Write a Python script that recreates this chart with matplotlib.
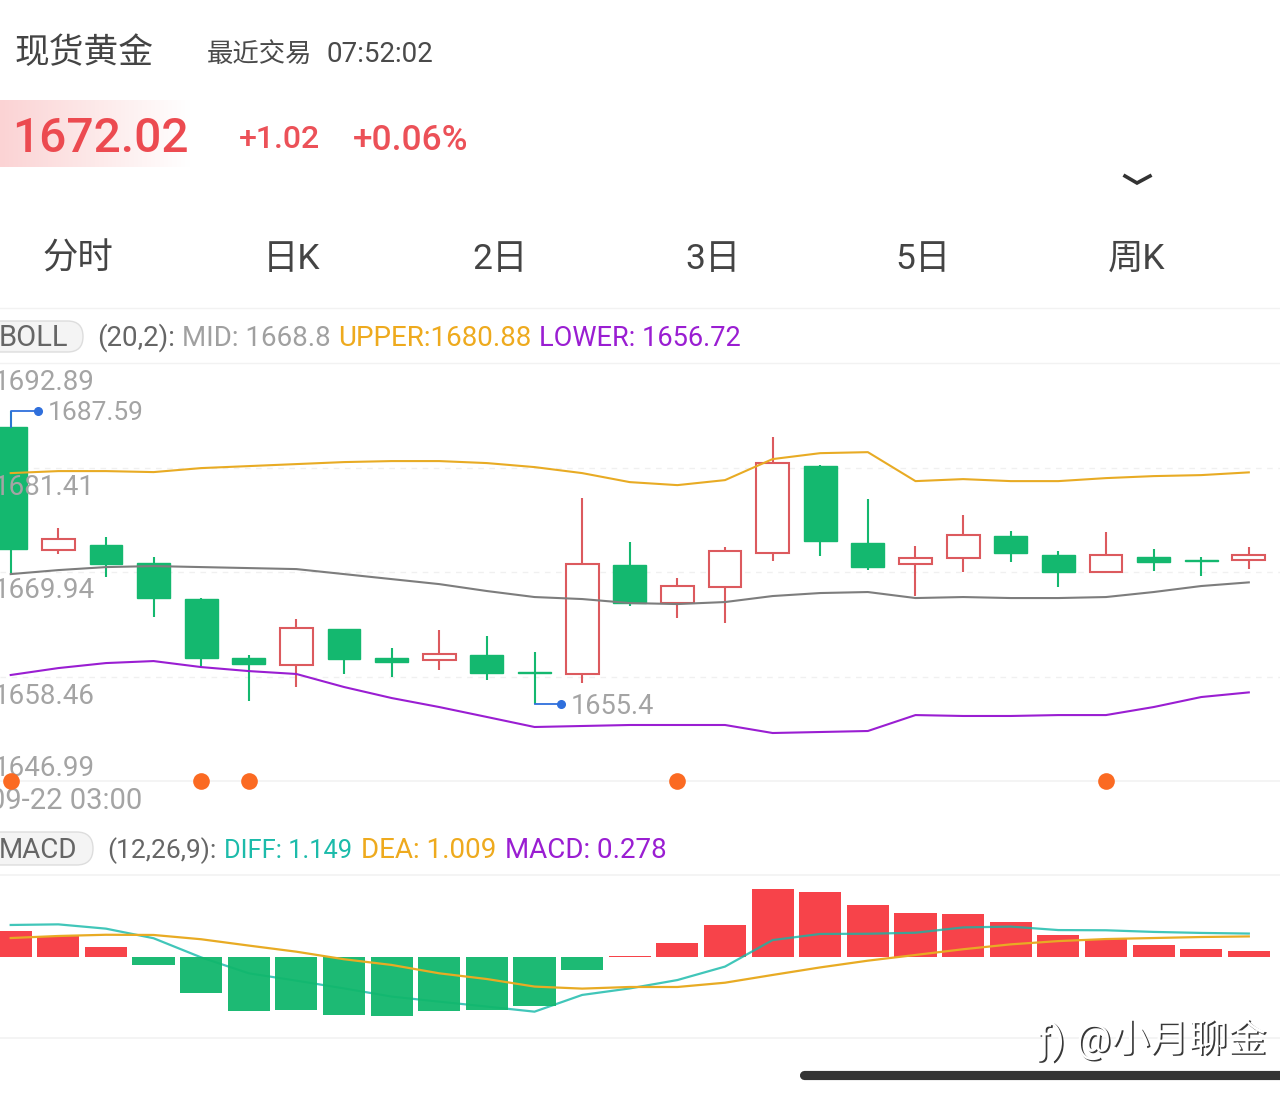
import numpy as np
import matplotlib
matplotlib.use("Agg")
import matplotlib.pyplot as plt
import matplotlib.patheffects as pe
from matplotlib.colors import LinearSegmentedColormap
from matplotlib.patches import FancyBboxPatch

FONT = ['Roboto', 'Noto Sans CJK SC', 'DejaVu Sans']
plt.rcParams['font.family'] = FONT

# ---- data ----
opens = [1685.85, 1672.35, 1672.90, 1670.92, 1666.97, 1660.49, 1659.72, 1663.68, 1660.49,
         1660.27, 1660.82, 1658.95, 1658.74, 1670.70, 1666.53, 1668.29, 1672.02, 1681.57,
         1673.12, 1670.81, 1671.47, 1673.88, 1671.80, 1669.93, 1671.58, 1671.25, 1671.25]
closes = [1672.46, 1673.55, 1670.81, 1667.08, 1660.49, 1659.83, 1663.78, 1660.38, 1660.05,
          1660.93, 1658.85, 1658.88, 1670.81, 1666.53, 1668.40, 1672.24, 1681.90, 1673.33,
          1670.48, 1671.47, 1673.99, 1672.02, 1669.93, 1671.80, 1671.03, 1671.19, 1671.80]
highs = [1687.59, 1674.76, 1673.77, 1671.58, 1667.08, 1660.82, 1664.77, 1663.68, 1661.59,
         1663.57, 1662.91, 1661.15, 1678.05, 1673.23, 1669.27, 1672.68, 1684.75, 1681.68,
         1677.95, 1672.79, 1676.19, 1674.43, 1672.24, 1674.32, 1672.46, 1671.58, 1672.68]
lows = [1669.82, 1671.91, 1669.38, 1664.99, 1659.61, 1655.77, 1657.31, 1658.74, 1658.41,
        1659.17, 1658.08, 1655.40, 1657.75, 1666.20, 1664.88, 1664.33, 1671.14, 1671.69,
        1670.15, 1667.30, 1669.93, 1671.03, 1668.29, 1669.93, 1670.04, 1669.49, 1670.26]
boll_upper = [1680.80, 1681.02, 1681.02, 1680.91, 1681.35, 1681.57, 1681.79, 1682.01, 1682.12,
              1682.12, 1681.90, 1681.46, 1680.80, 1679.81, 1679.48, 1680.03, 1682.34, 1682.99,
              1683.10, 1679.92, 1680.14, 1679.92, 1679.92, 1680.25, 1680.47, 1680.58, 1680.88]
boll_mid = [1669.71, 1670.15, 1670.48, 1670.59, 1670.48, 1670.37, 1670.26, 1669.71, 1669.16,
            1668.61, 1667.85, 1667.19, 1666.97, 1666.53, 1666.42, 1666.64, 1667.30, 1667.63,
            1667.74, 1667.08, 1667.19, 1667.08, 1667.08, 1667.19, 1667.74, 1668.40, 1668.80]
boll_lower = [1658.63, 1659.39, 1659.94, 1660.16, 1659.50, 1659.06, 1658.74, 1657.31, 1656.10,
              1655.11, 1654.02, 1652.92, 1653.03, 1653.14, 1653.14, 1653.14, 1652.26, 1652.37,
              1652.48, 1654.23, 1654.13, 1654.13, 1654.23, 1654.23, 1655.11, 1656.21, 1656.72]
macd_bar = [1.27, 1.05, 0.47, -0.39, -1.78, -2.66, -2.58, -2.83, -2.88, -2.63, -2.58, -2.40, -0.62,
            0.04, 0.69, 1.58, 3.33, 3.17, 2.55, 2.14, 2.11, 1.72, 1.09, 0.88, 0.59, 0.38, 0.278]
diff = [1.57, 1.60, 1.39, 0.92, -0.02, -0.80, -1.16, -1.54, -1.94, -2.19, -2.43, -2.68, -1.86,
        -1.54, -1.13, -0.47, 0.83, 1.13, 1.14, 1.19, 1.45, 1.49, 1.32, 1.31, 1.23, 1.18, 1.149]
dea = [0.93, 1.03, 1.09, 1.08, 0.87, 0.56, 0.26, -0.11, -0.39, -0.80, -1.08, -1.45, -1.55,
       -1.47, -1.47, -1.26, -0.88, -0.51, -0.18, 0.10, 0.38, 0.62, 0.78, 0.88, 0.93, 0.98, 1.009]
signal_idx = [0, 4, 5, 14, 23]
axis_prices = [1692.89, 1681.41, 1669.94, 1658.46, 1646.99]
axis_offsets = [-20, -20, -19, -20, 12]
tabs = ['分时', '日K', '2日', '3日', '5日', '周K']
tab_x = [78, 292, 500, 713, 923, 1137]

GREEN = '#14b86f'
RED_LINE = '#dc5a5e'
RED_BAR = '#f7434a'
GOLD = '#e8ab24'
PURPLE = '#9a1ed2'
TEAL = '#1cbbaa'
GRAY = '#a4a4a4'
W, H = 1280, 1095
x0_px, step_px = 10.7, 47.62

fig = plt.figure(figsize=(W / 100, H / 100), dpi=100, facecolor='white')


def px_axes(top, bottom):
    return fig.add_axes([0, 1 - bottom / H, 1, (bottom - top) / H])


xlim = (-x0_px / step_px, (W - x0_px) / step_px)
n = len(opens)
xs = np.arange(n)

# ---- overlay for the app chrome ----
ui = fig.add_axes([0, 0, 1, 1], zorder=0)
ui.set_xlim(0, W)
ui.set_ylim(H, 0)
ui.axis('off')
cmap = LinearSegmentedColormap.from_list('g', ['#fbd3d4', '#fde9e9', '#ffffff'])
ui.imshow(np.linspace(0, 1, 256).reshape(1, -1), extent=(0, 190, 167, 100), cmap=cmap,
          aspect='auto', zorder=0)
ui.set_xlim(0, W)
ui.set_ylim(H, 0)


def t(x, y, s, size, color, ha='left', weight='normal', **kw):
    return ui.text(x, y, s, fontsize=size, color=color, ha=ha, va='center', weight=weight,
                   family=FONT, **kw)


t(15, 54, '现货黄金', 25, '#444444')
t(207, 54, '最近交易', 19, '#4a4a4a')
t(327, 54, '07:52:02', 20, '#4a4a4a')
t(12, 139, '1672.02', 34.5, '#ec4a50', weight='medium')
t(239, 140, '+1.02', 23, '#ec5158', weight='medium')
t(353, 140, '+0.06%', 25.4, '#ec5158', weight='medium')
ui.plot([1125, 1137, 1150], [176, 183, 176], color='#333333', lw=2.6, solid_joinstyle='miter')
for label, x in zip(tabs, tab_x):
    t(x, 259, label, 25.5, '#444444', ha='center')
for y in [308, 363]:
    ui.axhline(y, color='#f2f2f2', lw=1)
for y, right, h in [(321, 83, 31), (832, 93, 33)]:
    ui.add_patch(FancyBboxPatch((-30, y), right + 30, h, boxstyle=f'round,pad=0,rounding_size={h / 2}',
                                fc='#f4f4f4', ec='#dddddd', lw=1))

t(-1, 338, 'BOLL', 21, '#666666')
t(97, 338, '(20,2):', 20, '#666666')
t(182, 338, 'MID: 1668.8', 20, '#a0a0a0')
t(338, 338, 'UPPER:1680.88', 20, '#eeaa1e')
t(539, 338, 'LOWER: 1656.72', 19.6, PURPLE)
t(-1, 851, 'MACD', 20, '#666666')
t(107, 851, '(12,26,9):', 19, '#666666')
t(224, 851, 'DIFF: 1.149', 18.4, TEAL)
t(361, 851, 'DEA: 1.009', 20, '#eeaa1e')
t(505, 851, 'MACD: 0.278', 20, PURPLE)
t(-11, 801, '09-22 03:00', 21, GRAY)
ui.plot([804, 1285], [1074.5, 1074.5], color='#333333', lw=6.6, solid_capstyle='round')

# ---- price panel ----
ax = px_axes(363, 781)
ax.patch.set_alpha(0)
ax.set_xlim(*xlim)
ax.set_ylim(axis_prices[-1], axis_prices[0])
ax.set_xticks([])
ax.set_yticks(axis_prices[1:-1])
ax.tick_params(length=0, labelleft=False)
ax.grid(axis='y', color='#f0f0f0', lw=1, ls=(0, (4, 4)))
ax.set_axisbelow(True)
for s in ax.spines.values():
    s.set_visible(False)
ax.axhline(axis_prices[-1], color='#f2f2f2', lw=1.2, clip_on=False)

for i in range(n):
    top, bot = max(opens[i], closes[i]), min(opens[i], closes[i])
    up = closes[i] > opens[i]
    col = RED_LINE if up else GREEN
    ax.plot([i, i], [top, highs[i]], color=col, lw=1.5, zorder=2, solid_capstyle='butt')
    ax.plot([i, i], [bot, lows[i]], color=col, lw=1.5, zorder=2, solid_capstyle='butt')
    ax.bar(i, top - bot, bottom=bot, width=0.69, facecolor='white' if up else GREEN,
           edgecolor=col, linewidth=1.5 if up else 1.0, zorder=3)

ax.plot(xs, boll_upper, color=GOLD, lw=1.5, zorder=4)
ax.plot(xs, boll_mid, color='#7d7d7d', lw=1.5, zorder=4)
ax.plot(xs, boll_lower, color=PURPLE, lw=1.5, zorder=4)

BLUE = '#2f6fdc'
hi_i, lo_i = int(np.argmax(highs)), int(np.argmin(lows))
ax.plot([hi_i, hi_i, hi_i + 0.58], [opens[hi_i], highs[hi_i], highs[hi_i]], color=BLUE, lw=1.3, zorder=5)
ax.plot([hi_i + 0.58], [highs[hi_i]], 'o', color=BLUE, ms=5.5, zorder=5)
ax.plot([lo_i, lo_i + 0.55], [lows[lo_i], lows[lo_i]], color=BLUE, lw=1.3, zorder=5)
ax.plot([lo_i + 0.55], [lows[lo_i]], 'o', color=BLUE, ms=5.5, zorder=5)
ax.annotate(f'{highs[hi_i]:.2f}', (hi_i + 0.58, highs[hi_i]), xytext=(9, -2), textcoords='offset pixels',
            fontsize=19, color=GRAY, va='center', zorder=6)
ax.annotate('1655.4', (lo_i + 0.55, lows[lo_i]), xytext=(10, -2), textcoords='offset pixels',
            fontsize=19.5, color=GRAY, va='center', zorder=6)
for p, off in zip(axis_prices, axis_offsets):
    ax.annotate(f'{p:.2f}', (xlim[0], p), xytext=(-6, off), textcoords='offset pixels',
                fontsize=20, color=GRAY, va='center', zorder=6, annotation_clip=False)
ax.plot(signal_idx, [axis_prices[-1]] * len(signal_idx), 'o', color='#fb6a22', ms=12, mew=0,
        zorder=7, clip_on=False)

# ---- MACD panel ----
m = px_axes(875, 1038)
m.patch.set_alpha(0)
m.set_xlim(*xlim)
m.set_ylim(-81 / 20.4, 82 / 20.4)
m.set_xticks([])
m.set_yticks([])
for key, s in m.spines.items():
    s.set_visible(key in ('top', 'bottom'))
    s.set_color('#f2f2f2')
    s.set_linewidth(1.2)
red_vals = [v if v > 0 else 0 for v in macd_bar]
green_vals = [v if v <= 0 else 0 for v in macd_bar]
m.bar(xs, red_vals, width=0.885, color=RED_BAR, zorder=2)
m.plot(xs, diff, color='#12b8a8', lw=1.6, alpha=0.8, zorder=3)
m.bar(xs, green_vals, width=0.885, color='#11b76c', alpha=0.95, zorder=3.5)
m.plot(xs, dea, color=GOLD, lw=1.6, zorder=4)

# ---- watermark ----
wm = fig.add_axes([0, 0, 1, 1], zorder=5)
wm.set_xlim(0, W)
wm.set_ylim(H, 0)
wm.axis('off')
wm.patch.set_alpha(0)
shadow = [pe.withSimplePatchShadow(offset=(1.2, -1.0), shadow_rgbFace='#222222', alpha=0.9)]
wm.text(1038, 1042, 'ƒ)', fontsize=28, color='white', va='center', path_effects=shadow)
wm.text(1076, 1039, '@小月聊金', fontsize=28, color='white', va='center', family=FONT, path_effects=shadow)

fig.savefig('out.png', dpi=100, facecolor='white')
